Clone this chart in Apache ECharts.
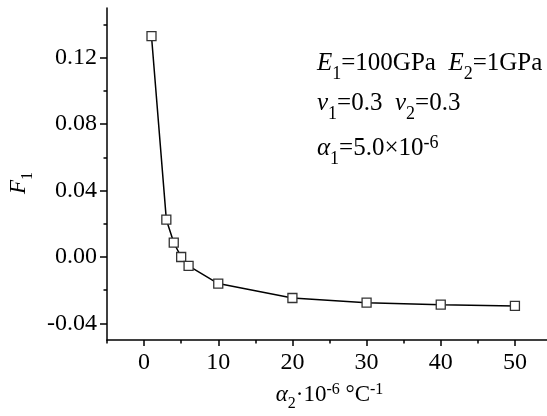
<!DOCTYPE html>
<html><head><meta charset="utf-8">
<script src="https://cdn.jsdelivr.net/npm/echarts@6/dist/echarts.min.js"></script>
<style>html,body{margin:0;padding:0;background:#fff}#c{width:547px;height:416px}</style>
</head><body><div id="c"></div>
<script>
const xValues = [1, 3, 4, 5, 6, 10, 20, 30, 40, 50];
const f1Values = [0.133, 0.0225, 0.0087, 0.0, -0.0054, -0.016, -0.0247, -0.0275, -0.0287, -0.0295];
const xMajorTicks = [0, 10, 20, 30, 40, 50];
const xMinorTicks = [-5, 5, 15, 25, 35, 45, 55];
const yMajorTicks = [-0.04, 0, 0.04, 0.08, 0.12];
const yMinorTicks = [-0.02, 0.02, 0.06, 0.10, 0.14];

const FF = 'Liberation Serif';
function makeRich(main, sub, lh, subPad, supPad) {
  return {
    n: {fontFamily: FF, fontSize: main, color: '#000', lineHeight: lh},
    i: {fontFamily: FF, fontSize: main, color: '#000', lineHeight: lh, fontStyle: 'italic'},
    s: {fontFamily: FF, fontSize: sub, color: '#000', lineHeight: 4, verticalAlign: 'top', padding: [subPad, 0, 0, 0]},
    p: {fontFamily: FF, fontSize: sub, color: '#000', lineHeight: 4, verticalAlign: 'top', padding: [supPad, 0, 0, 0]}
  };
}
const rich = makeRich(25, 18, 30, 17, 1);
const nameRich = makeRich(23, 16, 30, 16, 2);

const axisLine = {show: true, onZero: false, lineStyle: {color: '#000', width: 1.5}};
const labelStyle = {fontFamily: FF, fontSize: 24, color: '#000'};

const chart = echarts.init(document.getElementById('c'), null, {renderer: 'canvas'});
chart.setOption({
  animation: false,
  backgroundColor: '#fff',
  grid: {left: 107, top: 8, width: 445, height: 332, containLabel: false, outerBoundsMode: 'none'},
  xAxis: [{
    type: 'value', min: -5, max: 55, position: 'bottom',
    axisLine: axisLine,
    axisTick: {show: true, customValues: xMajorTicks, length: 6, lineStyle: {color: '#000', width: 1.5}},
    axisLabel: Object.assign({customValues: xMajorTicks, margin: 11}, labelStyle),
    splitLine: {show: false},
    name: '{i|α}{s|2}{n|·10}{p|-6}{n| °C}{p|-1}',
    nameLocation: 'middle', nameGap: 34,
    nameTextStyle: {rich: nameRich}
  }, {
    type: 'value', min: -5, max: 55, position: 'bottom',
    axisLine: {show: false, onZero: false},
    axisTick: {show: true, customValues: xMinorTicks, length: 3.5, lineStyle: {color: '#000', width: 1.5}},
    axisLabel: {show: false},
    splitLine: {show: false}
  }],
  yAxis: [{
    type: 'value', min: -0.05, max: 0.15, position: 'left',
    axisLine: axisLine,
    axisTick: {show: true, customValues: yMajorTicks, length: 7, lineStyle: {color: '#000', width: 1.5}},
    axisLabel: Object.assign({customValues: yMajorTicks, margin: 10, formatter: v => v.toFixed(2)}, labelStyle),
    splitLine: {show: false},
    name: '{i|F}{s|1}',
    nameLocation: 'middle', nameGap: 68, nameRotate: 90,
    nameTextStyle: {rich: nameRich, padding: [0, 18, 0, 0]}
  }, {
    type: 'value', min: -0.05, max: 0.15, position: 'left',
    axisLine: {show: false, onZero: false},
    axisTick: {show: true, customValues: yMinorTicks, length: 3.5, lineStyle: {color: '#000', width: 1.5}},
    axisLabel: {show: false},
    splitLine: {show: false}
  }],
  series: [{
    type: 'line',
    xAxisIndex: 0, yAxisIndex: 0,
    data: xValues.map((x, k) => [x, f1Values[k]]),
    symbol: 'rect', symbolSize: 9,
    lineStyle: {color: '#000', width: 1.5},
    itemStyle: {color: '#fff', borderColor: '#333', borderWidth: 1.3}
  }],
  graphic: [
    {type: 'text', left: 317, top: 48, style: {text: '{i|E}{s|1}{n|=100GPa  }{i|E}{s|2}{n|=1GPa}', rich: rich}},
    {type: 'text', left: 317, top: 88, style: {text: '{i|v}{s|1}{n|=0.3  }{i|v}{s|2}{n|=0.3}', rich: rich}},
    {type: 'text', left: 317, top: 133, style: {text: '{i|α}{s|1}{n|=5.0×10}{p|-6}', rich: rich}}
  ]
});
</script></body></html>
